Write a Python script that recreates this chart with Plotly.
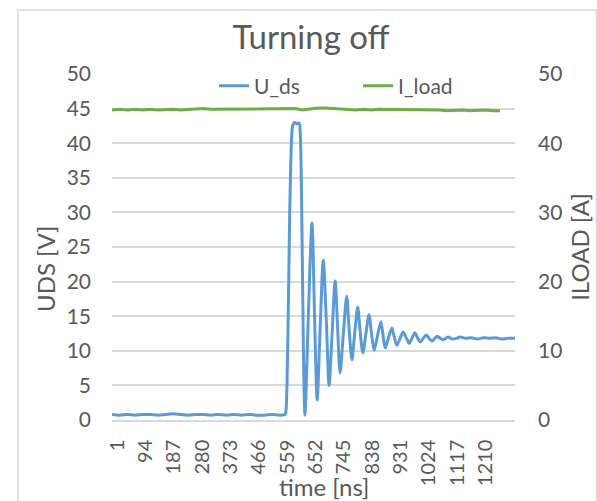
import plotly.graph_objects as go

# ---- data ----
tick_vals = [1, 94, 187, 280, 373, 466, 559, 652, 745, 838, 931, 1024, 1117, 1210]

# U_ds  [V]  (sample index, value)
u_x = [1, 26, 51, 76, 101, 126, 151, 176, 201, 226, 251, 276, 301, 326, 351,
       376, 401, 426, 451, 476, 501, 526, 551, 569,
       572, 578, 584, 590, 594, 600, 609, 615, 619, 624, 629, 634,
       645, 657, 666, 674, 684, 694, 704, 713, 723, 733, 741, 749, 760, 771,
       779, 788, 797, 807, 815, 824, 834, 844, 852, 861, 872, 883, 890, 897,
       908, 919, 927, 935, 946, 956, 966, 976, 986, 995, 1003, 1012, 1022,
       1032, 1041, 1051, 1060, 1068, 1078, 1087, 1096, 1104, 1112, 1120, 1131,
       1143, 1160, 1180, 1200, 1220, 1240, 1260, 1280, 1300, 1323]
u_vals = [0.8, 0.7, 0.8, 0.7, 0.8, 0.8, 0.7, 0.8, 0.9, 0.8, 0.7, 0.8, 0.8, 0.7,
          0.8, 0.7, 0.8, 0.7, 0.8, 0.7, 0.7, 0.8, 0.7, 0.8,
          1.5, 12.0, 30.0, 40.5, 42.6, 43.0, 42.8, 42.9, 41.0, 28.0, 10.0, 0.7,
          15.0, 28.5, 14.0, 2.9, 13.5, 23.1, 14.5, 5.0, 12.5, 20.1, 13.5, 6.8,
          12.5, 17.9, 13.0, 8.7, 12.5, 16.3, 12.8, 9.7, 12.5, 15.2, 12.6, 10.1,
          12.2, 14.2, 12.3, 10.4, 11.9, 13.3, 12.0, 10.8, 11.8, 12.7, 11.9,
          11.1, 11.9, 12.6, 11.9, 11.3, 11.8, 12.3, 11.8, 11.4, 11.8, 12.1,
          11.8, 11.6, 11.8, 12.0, 11.8, 11.7, 11.8, 12.0, 11.8, 11.9, 11.7,
          11.9, 11.8, 11.9, 11.7, 11.8, 11.8]

# I_load [A]
i_x = [1, 26, 51, 76, 101, 126, 151, 176, 201, 226, 251, 276, 301, 326, 351,
       376, 401, 426, 451, 476, 501, 526, 551, 576, 601, 626, 651, 676, 701,
       726, 751, 776, 801, 826, 851, 876, 901, 926, 951, 976, 1001, 1026,
       1051, 1076, 1101, 1126, 1151, 1176, 1201, 1226, 1251, 1274]
i_vals = [44.8, 44.9, 44.8, 44.9, 44.8, 44.9, 44.8, 44.9, 44.9, 44.8, 44.9,
          44.9, 45.0, 44.9, 44.9, 45.0, 44.9, 44.9, 45.0, 44.9, 45.0, 44.9,
          45.0, 44.9, 45.0, 44.8, 45.0, 45.1, 45.1, 45.0, 44.9, 44.9, 44.8,
          44.9, 44.8, 44.9, 44.9, 44.8, 44.9, 44.8, 44.8, 44.9, 44.8, 44.8,
          44.7, 44.8, 44.8, 44.7, 44.8, 44.8, 44.7, 44.7]

FONT = "Lato"
GREY = "#595959"
GRID = "#D9D9D9"

L, R, T, B = 112, 82, 74, 81
PW, PH = 597 - L - R, 501 - T - B


def px_x(p):
    return (p - L) / PW


def px_y(p):
    return (501 - B - p) / PH


fig = go.Figure()
fig.add_trace(go.Scatter(x=u_x, y=u_vals, name="U_ds", mode="lines",
                         line=dict(color="#5B9BD5", width=3, shape="spline",
                                   smoothing=0.8)))
fig.add_trace(go.Scatter(x=i_x, y=i_vals, name="I_load", mode="lines",
                         yaxis="y2",
                         line=dict(color="#70AD47", width=3)))

fig.update_layout(
    width=597, height=501, autosize=False,
    margin=dict(l=L, r=R, t=T, b=B, pad=0),
    paper_bgcolor="white", plot_bgcolor="white",
    font=dict(family=FONT, color=GREY, size=21),
    title=dict(text="Turning off", x=0.521, xanchor="center",
               y=1 - 37 / 501, yanchor="middle", yref="container",
               font=dict(family=FONT, size=33, color=GREY)),
    xaxis=dict(range=[1, 1323], tickmode="array", tickvals=tick_vals,
               ticktext=[str(v) for v in tick_vals], tickangle=-90,
               showgrid=False, zeroline=False, showline=True,
               linecolor=GRID, linewidth=1.5, ticks="",
               ticklabelstandoff=10, ticklabelshift=5, automargin=False,
               tickfont=dict(family=FONT, size=20, color=GREY)),
    yaxis=dict(range=[0, 50], dtick=5, showgrid=True, gridcolor=GRID,
               gridwidth=1.5, zeroline=False, showline=False, ticks="",
               ticklabelstandoff=20, automargin=False,
               tickfont=dict(family=FONT, size=21, color=GREY)),
    yaxis2=dict(range=[0, 50], dtick=10, overlaying="y", side="right",
                showgrid=False, zeroline=False, showline=False, ticks="",
                ticklabelstandoff=22, automargin=False,
                tickfont=dict(family=FONT, size=21, color=GREY),
                title=dict(text="ILOAD [A]", standoff=10,
                           font=dict(family=FONT, size=24, color=GREY))),
    legend=dict(orientation="h", x=px_x(214), xanchor="left", y=0.965,
                yanchor="middle", bgcolor="rgba(0,0,0,0)",
                font=dict(family=FONT, size=21, color=GREY),
                entrywidth=99, entrywidthmode="pixels", tracegroupgap=0),
    annotations=[
        dict(text="time [ns]", xref="paper", yref="paper",
             x=px_x(324), y=px_y(486), xanchor="center", yanchor="middle",
             showarrow=False, font=dict(family=FONT, size=24, color=GREY)),
        dict(text="UDS [V]", xref="paper", yref="paper", textangle=-90,
             x=px_x(45), y=px_y(269), xanchor="center", yanchor="middle",
             showarrow=False, font=dict(family=FONT, size=24, color=GREY)),
    ],
    shapes=[dict(type="rect", xref="paper", yref="paper",
                 x0=px_x(18), x1=px_x(596.5),
                 y0=-0.4, y1=px_y(10),
                 line=dict(color=GRID, width=1.5), layer="below")],
)

fig.write_html("out.html", config={"displayModeBar": False},
               post_script="document.body.style.margin='0px';")
